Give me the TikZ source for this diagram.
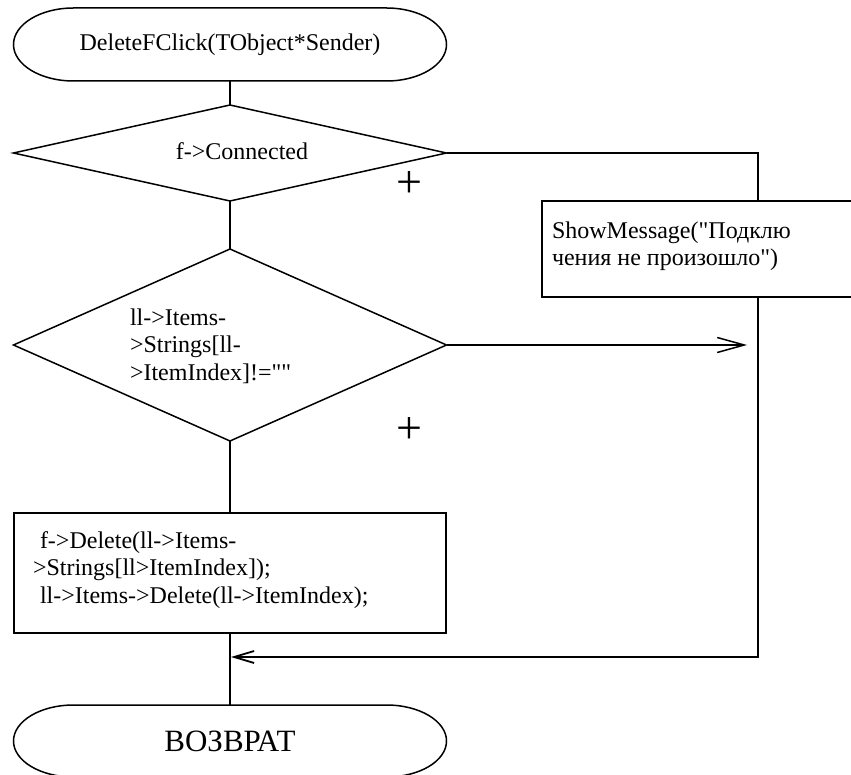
\documentclass[tikz,border=0pt]{standalone}
\usepackage{fontspec}
\setmainfont{Liberation Serif}[Ligatures=TeXOff]
\usetikzlibrary{shapes.geometric,arrows.meta}
\begin{document}
\begin{tikzpicture}[x=1pt,y=-1pt,
  every node/.style={outer sep=0pt, inner sep=0pt},
  ln/.style={line width=1.5pt},
  lbl/.style={font=\fontsize{24}{27.5}\selectfont},
  term/.style={rectangle, minimum width=433pt, minimum height=73pt},
  dia/.style={diamond, draw, ln, minimum width=433pt},
  blk/.style={rectangle, draw, ln},
  plus/.style={font=\fontsize{46}{46}\selectfont},
  barbA/.style={-{Straight Barb[length=27pt,width=15pt,line width=1.5pt]}},
  barbB/.style={-{Straight Barb[length=20pt,width=12pt,line width=1.8pt]}}
]
\useasboundingbox (0,0) rectangle (851,775);
\clip (0,0) rectangle (851,775);

% start terminator
\node[term, lbl] (t1) at (230,44.5) {DeleteFClick(TObject*Sender)};
\draw[ln] ([xshift=60pt]t1.north west) -- ([xshift=-60pt]t1.north east)
  arc[start angle=90,end angle=-90,x radius=60pt,y radius=36.5pt]
  -- ([xshift=60pt]t1.south west)
  arc[start angle=270,end angle=90,x radius=60pt,y radius=36.5pt] -- cycle;

% decision 1
\node[dia, minimum height=96pt] (d1) at (230,153) {};
\node[lbl] (d1txt) at (242,151) {f->Connected};

% decision 2
\node[dia, minimum height=192pt] (d2) at (230,345) {};
\node[lbl, anchor=west, align=left] (d2txt) at (130,346) {ll->Items-\\>Strings[ll-\\>ItemIndex]!=""};

% message box
\node[blk, minimum width=432pt, minimum height=96pt] (msg) at (758,249) {};
\node[lbl, anchor=west, align=left] (msgtxt) at (552,246) {ShowMessage("Подклю\\чения не произошло")};

% action box
\node[blk, minimum width=432pt, minimum height=120pt] (act) at (230,573) {};
\node[lbl, anchor=west, align=left] (acttxt) at (33,570) {\hspace*{7pt}f->Delete(ll->Items-\\>Strings[ll>ItemIndex]);\\\hspace*{7pt}ll->Items->Delete(ll->ItemIndex);};

% end terminator
\node[term, minimum height=72pt, font=\fontsize{31}{31}\selectfont] (t2) at (230,741) {ВОЗВРАТ};
\draw[ln] ([xshift=60pt]t2.north west) -- ([xshift=-60pt]t2.north east)
  arc[start angle=90,end angle=-90,x radius=60pt,y radius=36pt]
  -- ([xshift=60pt]t2.south west)
  arc[start angle=270,end angle=90,x radius=60pt,y radius=36pt] -- cycle;

% plus signs
\node[plus] (p1) at (409,185) {+};
\node[plus] (p2) at (409,431) {+};

% connectors
\coordinate (c1) at (747,345);
\coordinate (j) at (231,657);
\draw[ln] (t1.south) -- (d1.north);
\draw[ln] (d1.south) -- (d2.north);
\draw[ln] (d1.east) -| (msg.north);
\draw[ln, barbA] (d2.east) -- (c1);
\draw[ln] (d2.south) -- (act.north);
\draw[ln] (act.south) -- (t2.north);
\draw[ln, barbB] (msg.south) |- (j);
\end{tikzpicture}
\end{document}
